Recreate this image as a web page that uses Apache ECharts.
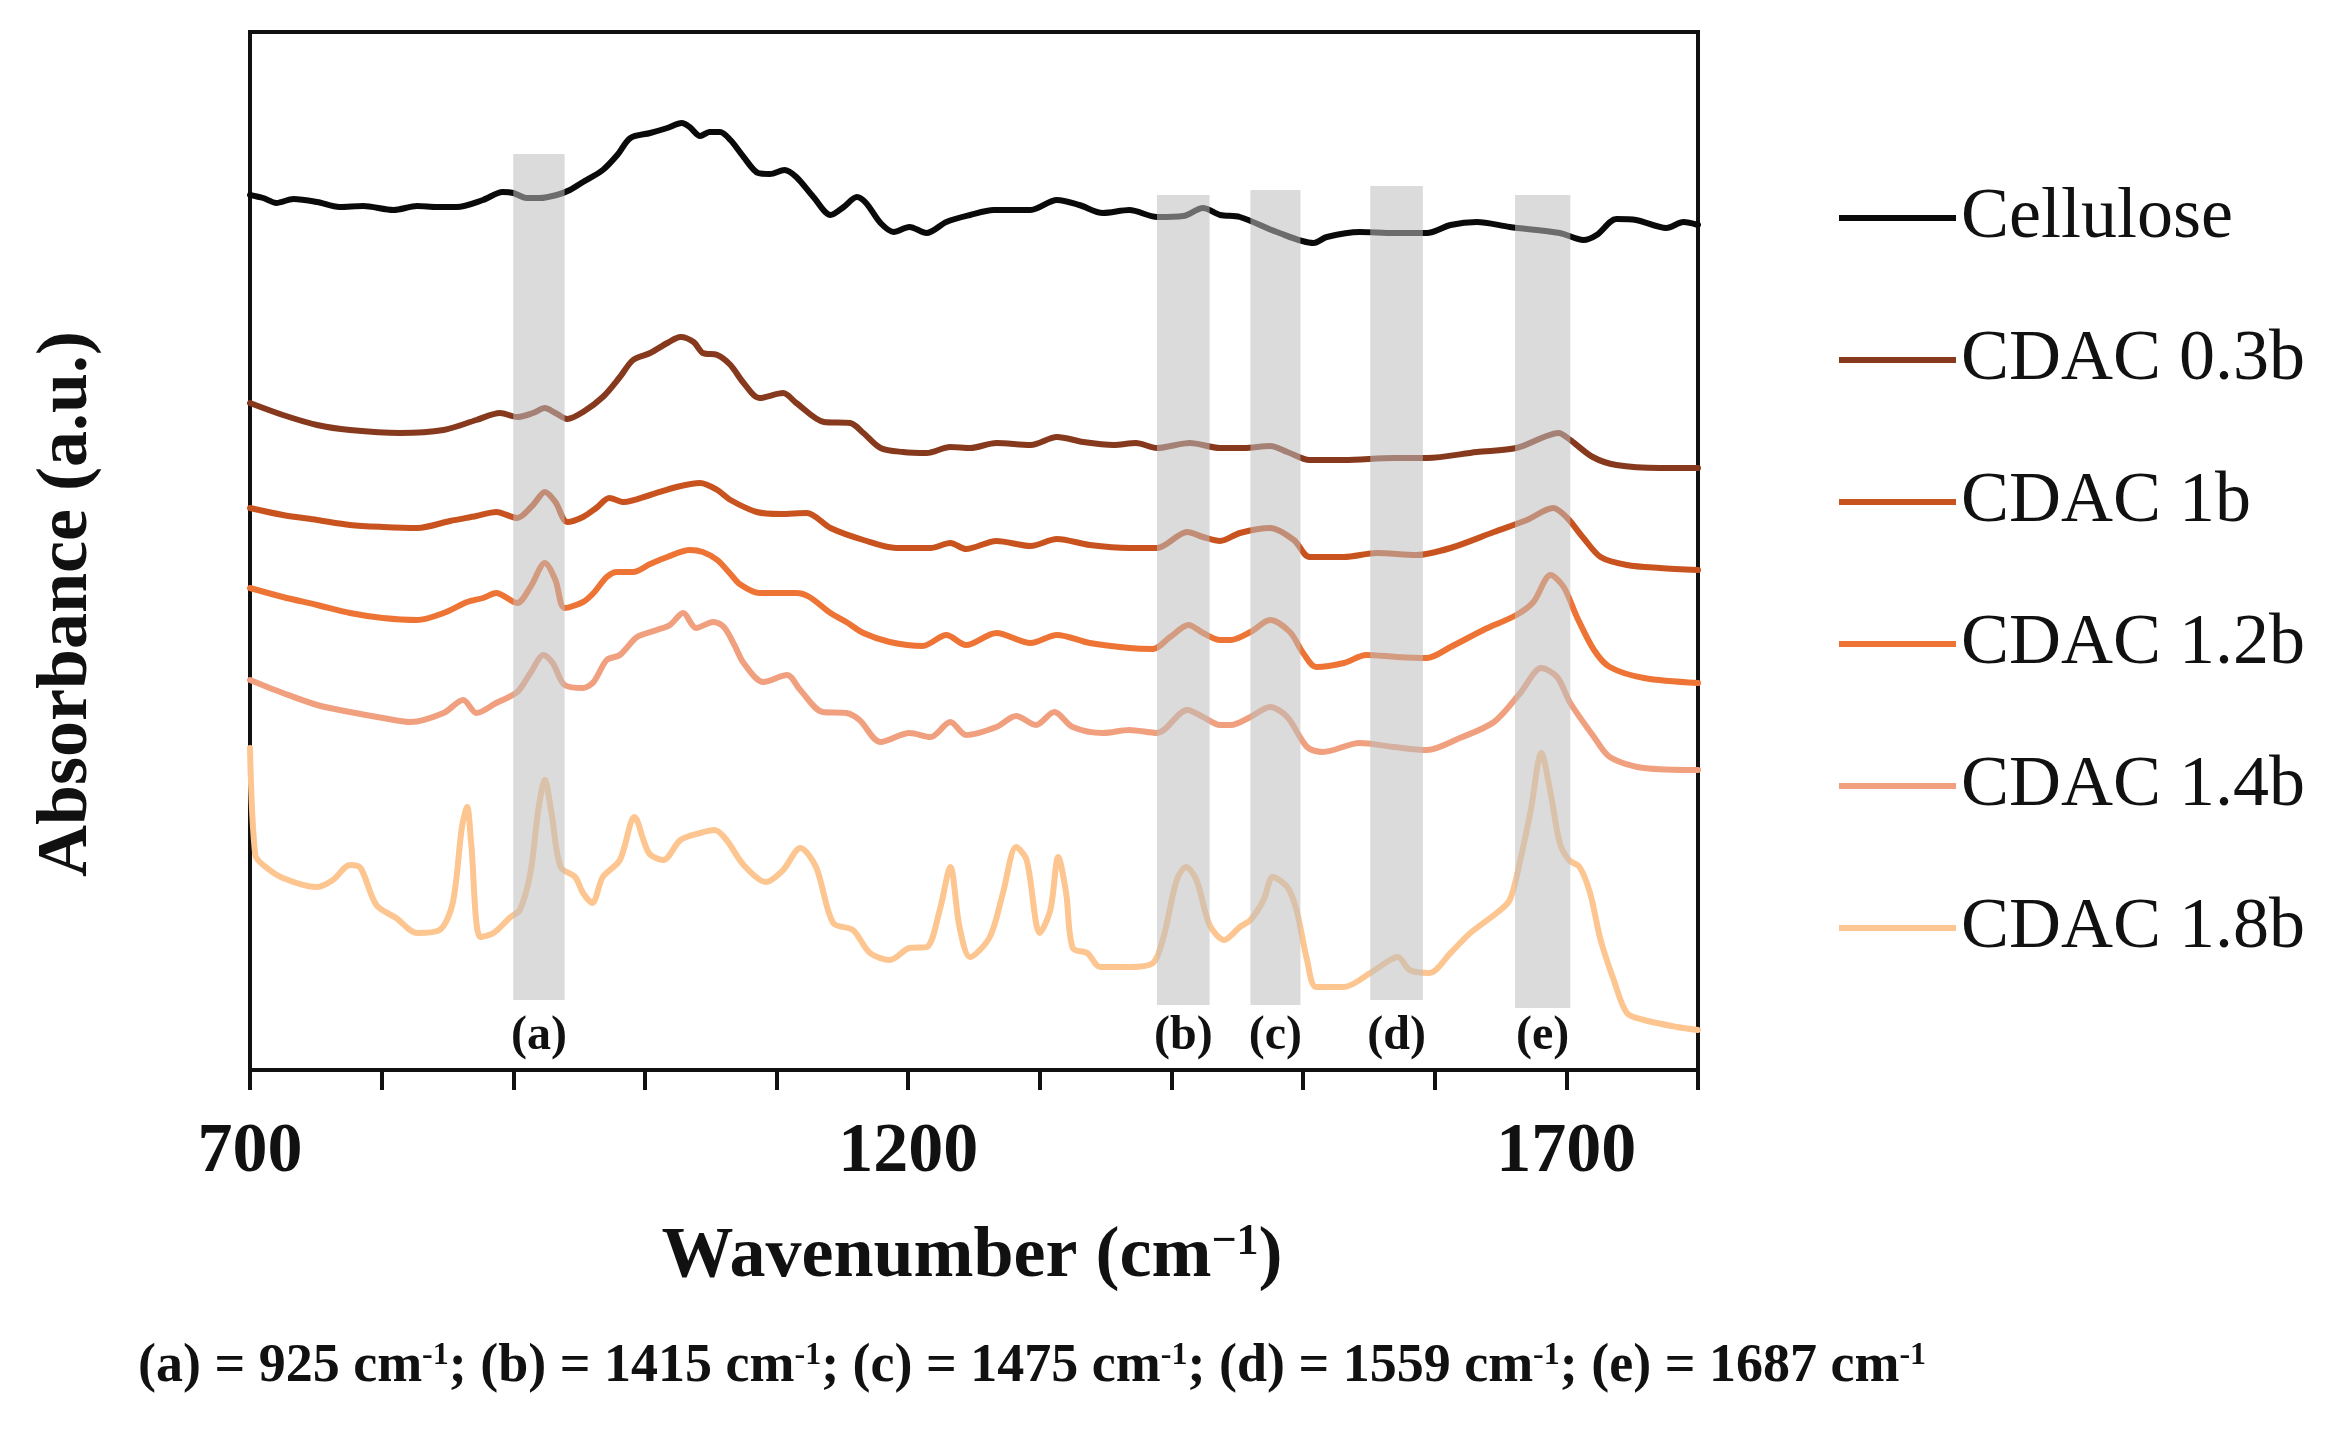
<!DOCTYPE html>
<html>
<head>
<meta charset="utf-8">
<title>FTIR spectra</title>
<script src="https://cdn.jsdelivr.net/npm/echarts@6/dist/echarts.min.js"></script>
<style>
html, body { margin: 0; padding: 0; background: #fff; }
#chart { width: 2341px; height: 1430px; }
</style>
</head>
<body>
<div id="chart"></div>
<script>
// series names and colours
var names = ['Cellulose', 'CDAC 0.3b', 'CDAC 1b', 'CDAC 1.2b', 'CDAC 1.4b', 'CDAC 1.8b'];
var colors = ['#0a0a0a', '#86391c', '#c8531f', '#ee7436', '#f0a07f', '#fdc590'];

// wavenumber (cm-1) / absorbance (a.u., stacked offsets)
var celluloseX = [700,710,720,733,751,768,786,809,827,842,857,877,892,900,910,920,933,943,953,968,979,989,1004,1017,1028,1034,1042,1049,1057,1065,1075,1086,1095,1106,1115,1128,1141,1151,1161,1168,1179,1189,1201,1214,1229,1247,1265,1293,1313,1330,1348,1368,1389,1409,1424,1437,1452,1480,1508,1518,1543,1569,1594,1612,1632,1657,1695,1713,1723,1738,1753,1776,1789,1800];
var celluloseY = [87.5,87.2,86.7,87.1,86.8,86.3,86.4,86.0,86.4,86.3,86.3,87.0,87.8,87.7,87.2,87.2,87.5,88.0,88.8,90.0,91.5,93.2,93.7,94.2,94.7,94.3,93.4,93.8,93.8,93.0,91.3,89.7,89.6,90.0,89.3,87.3,85.5,86.3,87.3,86.7,84.7,83.8,84.3,83.7,84.8,85.5,86.0,86.0,87.0,86.5,85.7,86.0,85.3,85.4,86.2,85.5,85.3,83.8,82.7,83.3,83.8,83.7,83.7,84.5,84.8,84.3,83.7,83.0,83.5,85.1,85.0,84.2,84.8,84.5];

var cdac03X = [700,725,751,776,814,847,872,890,903,915,924,932,941,953,968,981,991,1004,1017,1027,1037,1044,1055,1065,1075,1087,1105,1115,1136,1156,1166,1179,1196,1214,1232,1247,1267,1293,1313,1333,1356,1373,1389,1414,1437,1455,1475,1488,1505,1531,1569,1594,1632,1662,1683,1694,1703,1720,1738,1771,1800];
var cdac03Y = [66.7,65.5,64.5,64.0,63.7,64.0,65.0,65.7,65.3,65.7,66.2,65.7,65.1,65.8,67.3,69.3,71.0,71.7,72.7,73.3,72.8,71.7,71.5,70.5,68.7,67.2,67.7,66.7,64.8,64.7,63.7,62.2,61.8,61.7,62.3,62.2,62.7,62.5,63.3,62.8,62.5,62.7,62.2,62.7,62.2,62.2,62.4,61.8,61.0,61.0,61.2,61.2,61.8,62.2,63.3,63.7,63.0,61.3,60.5,60.2,60.2];

var cdac1X = [700,725,751,776,801,827,852,872,887,903,915,924,932,941,953,963,973,984,1004,1024,1042,1055,1065,1085,1103,1123,1141,1166,1191,1217,1232,1244,1267,1293,1313,1338,1368,1389,1412,1424,1437,1452,1475,1493,1505,1531,1556,1586,1612,1645,1670,1690,1700,1713,1726,1746,1771,1800];
var cdac1Y = [56.2,55.5,55.0,54.5,54.3,54.2,54.9,55.4,55.8,55.2,56.5,57.8,56.8,54.8,55.3,56.2,57.2,56.8,57.5,58.3,58.7,58.0,57.0,55.8,55.6,55.7,54.2,53.0,52.2,52.2,52.7,52.1,52.9,52.4,53.1,52.5,52.2,52.2,53.8,53.3,52.9,53.7,54.2,53.0,51.3,51.3,51.7,51.5,52.2,53.8,55.0,56.2,55.3,53.2,51.3,50.5,50.2,50.0];

var cdac12X = [700,725,751,776,801,827,847,865,877,887,903,913,924,932,939,953,961,971,979,991,1004,1017,1034,1044,1055,1065,1072,1087,1115,1125,1141,1153,1166,1186,1211,1229,1244,1267,1293,1313,1338,1368,1386,1399,1413,1424,1437,1445,1460,1475,1490,1500,1510,1531,1548,1571,1594,1612,1637,1662,1675,1688,1698,1708,1721,1733,1759,1800];
var cdac12Y = [48.2,47.3,46.5,45.7,45.2,45.0,45.7,46.8,47.2,47.7,46.7,48.3,50.7,49.0,46.2,46.8,47.7,49.3,49.8,49.8,50.6,51.3,52.0,51.8,51.0,49.6,48.6,47.7,47.7,47.3,45.7,44.8,43.7,42.8,42.4,43.5,42.5,43.7,42.7,43.5,42.7,42.2,42.1,43.3,44.5,43.7,43.0,43.0,43.8,45.0,43.8,41.7,40.3,40.7,41.5,41.3,41.2,42.3,44.0,45.5,46.8,49.5,48.3,45.3,42.0,40.3,39.2,38.7];

var cdac14X = [700,725,751,776,801,822,847,862,872,887,903,913,923,930,939,953,961,971,981,994,1009,1019,1029,1039,1052,1060,1068,1075,1090,1108,1118,1135,1153,1163,1179,1201,1217,1232,1244,1267,1282,1297,1311,1325,1348,1368,1389,1412,1424,1437,1445,1460,1475,1488,1503,1515,1543,1569,1594,1619,1645,1665,1681,1693,1703,1721,1733,1759,1800];
var cdac14Y = [39.0,37.7,36.5,35.8,35.2,34.8,35.7,37.0,35.7,36.7,37.8,39.7,41.5,40.7,38.5,38.2,38.8,41.0,41.5,43.3,44.0,44.5,45.7,44.2,44.8,44.3,42.5,40.7,38.8,39.5,38.0,35.8,35.7,35.0,32.8,33.7,33.3,34.8,33.5,34.3,35.4,34.5,35.8,34.3,33.7,34.0,33.7,36.0,35.3,34.5,34.5,35.3,36.3,35.3,32.3,31.8,32.7,32.3,32.0,33.2,34.8,37.7,40.2,39.3,36.7,33.3,31.3,30.2,30.0];

var cdac18X = [700,704,710,725,751,763,776,784,796,811,827,844,854,861,865,868,875,885,898,905,913,919,924,929,936,947,953,960,968,981,992,1003,1014,1027,1042,1053,1062,1075,1092,1105,1118,1130,1143,1158,1171,1186,1201,1214,1224,1232,1239,1247,1262,1272,1282,1290,1300,1308,1314,1320,1325,1336,1346,1368,1386,1394,1404,1411,1419,1429,1440,1452,1460,1470,1477,1488,1495,1503,1510,1531,1551,1566,1572,1581,1596,1612,1627,1647,1657,1665,1673,1681,1688,1695,1702,1710,1718,1726,1736,1746,1759,1784,1800];
var cdac18Y = [32.2,21.5,20.5,19.2,18.3,19.0,20.5,20.2,16.5,15.2,13.7,14.0,16.7,24.3,26.3,22.7,13.3,13.7,15.3,16.0,19.7,26.0,29.0,25.7,20.3,19.3,17.7,16.7,19.3,21.0,25.3,21.7,21.0,23.0,23.7,24.0,23.0,20.5,18.8,20.0,22.2,20.3,14.7,14.0,11.7,11.0,12.2,12.3,16.0,20.3,14.3,11.3,13.3,17.7,22.3,21.0,13.7,16.0,21.3,17.7,12.2,11.7,10.3,10.3,10.7,13.3,19.0,20.3,19.0,14.5,13.0,14.3,15.0,17.0,19.3,18.3,16.0,11.0,8.3,8.3,9.7,11.0,11.3,10.0,9.7,11.7,13.7,15.7,17.0,21.0,26.0,31.7,27.7,22.7,21.0,20.3,17.7,13.0,9.0,5.7,5.0,4.3,4.0];

// highlighted bands (a)-(e)
var bandLabels = ['(a)', '(b)', '(c)', '(d)', '(e)'];
var bandFrom = [900, 1389, 1460, 1551, 1661];
var bandTo = [939, 1429, 1498, 1591, 1703];
var bandBottom = [7.0, 6.5, 6.5, 7.0, 6.2];
var bandTop = [91.6, 87.5, 88.0, 88.4, 87.5];
var bandLabelY = 3.3;

var xTickLabels = [700, 1200, 1700];

var xs = [celluloseX, cdac03X, cdac1X, cdac12X, cdac14X, cdac18X];
var ys = [celluloseY, cdac03Y, cdac1Y, cdac12Y, cdac14Y, cdac18Y];

var serif = '"Liberation Serif", "Times New Roman", serif';

function pairs(x, y) {
  return x.map(function (v, i) { return [v, y[i]]; });
}

var series = names.map(function (n, i) {
  return {
    name: n,
    type: 'line',
    data: pairs(xs[i], ys[i]),
    showSymbol: false,
    symbol: 'none',
    smooth: 0.3,
    color: colors[i],
    lineStyle: { width: 6, color: colors[i], join: 'round', cap: 'round' },
    z: 2
  };
});

var bandData = bandFrom.map(function (f, i) {
  return [f, bandTo[i], bandBottom[i], bandTop[i]];
});

series.push({
  type: 'custom',
  z: 10,
  silent: true,
  encode: { x: [0, 1], y: [2, 3] },
  data: bandData,
  renderItem: function (params, api) {
    var lt = api.coord([api.value(0), api.value(3)]);
    var rb = api.coord([api.value(1), api.value(2)]);
    var mid = api.coord([(api.value(0) + api.value(1)) / 2, bandLabelY]);
    return {
      type: 'group',
      children: [
        {
          type: 'rect',
          shape: { x: lt[0], y: lt[1], width: rb[0] - lt[0], height: rb[1] - lt[1] },
          style: { fill: 'rgba(190,190,190,0.55)' }
        },
        {
          type: 'text',
          x: mid[0],
          y: mid[1],
          style: {
            text: bandLabels[params.dataIndex],
            fill: '#111',
            font: 'bold 48px ' + serif,
            align: 'center', verticalAlign: 'middle',
            textAlign: 'center', textVerticalAlign: 'middle'
          }
        }
      ]
    };
  }
});

var myChart = echarts.init(document.getElementById('chart'));

var option = {
  backgroundColor: '#fff',
  animation: false,
  grid: {
    left: 250, top: 32, width: 1448, height: 1038,
    show: true, borderColor: '#111', borderWidth: 4
  },
  legend: {
    data: names,
    orient: 'vertical',
    left: 1834,
    top: 177,
    icon: 'rect',
    itemWidth: 117,
    itemHeight: 6,
    itemGap: 70,
    selectedMode: false,
    textStyle: { fontFamily: serif, fontSize: 72, lineHeight: 72, color: '#111' }
  },
  xAxis: {
    type: 'value',
    min: 700,
    max: 1800,
    interval: 100,
    axisLine: { lineStyle: { color: '#111', width: 4 } },
    axisTick: { show: true, inside: false, length: 20, lineStyle: { color: '#111', width: 4 } },
    axisLabel: {
      margin: 48,
      fontFamily: serif,
      fontWeight: 'bold',
      fontSize: 70,
      color: '#111',
      formatter: function (v) { return xTickLabels.indexOf(v) >= 0 ? String(v) : ''; }
    },
    splitLine: { show: false }
  },
  yAxis: {
    type: 'value',
    min: 0,
    max: 103.8,
    axisLine: { show: true, lineStyle: { color: '#111', width: 4 } },
    axisTick: { show: false },
    axisLabel: { show: false },
    splitLine: { show: false }
  },
  graphic: [
    {
      type: 'text',
      x: 67, y: 604,
      rotation: Math.PI / 2,
      style: {
        text: 'Absorbance (a.u.)',
        font: 'bold 72px ' + serif,
        fill: '#111',
        align: 'center', verticalAlign: 'middle',
        textAlign: 'center', textVerticalAlign: 'middle'
      }
    },
    {
      type: 'text',
      x: 972, y: 1257,
      style: {
        text: 'Wavenumber (cm{sup|\u22121})',
        font: 'bold 72px ' + serif,
        fill: '#111',
        align: 'center', verticalAlign: 'middle',
        textAlign: 'center', textVerticalAlign: 'middle',
        rich: {
          sup: { fontSize: 44, fontWeight: 'bold', fontFamily: serif, verticalAlign: 'top', lineHeight: 72 }
        }
      }
    },
    {
      type: 'text',
      x: 1032, y: 1367,
      style: {
        text: '(a) = 925 cm{sup|-1}; (b) = 1415 cm{sup|-1}; (c) = 1475 cm{sup|-1}; (d) = 1559 cm{sup|-1}; (e) = 1687 cm{sup|-1}',
        font: 'bold 54px ' + serif,
        fill: '#111',
        align: 'center', verticalAlign: 'middle',
        textAlign: 'center', textVerticalAlign: 'middle',
        rich: {
          sup: { fontSize: 32, fontWeight: 'bold', fontFamily: serif, verticalAlign: 'top', lineHeight: 54 }
        }
      }
    }
  ],
  series: series
};

myChart.setOption(option);
window.addEventListener('resize', function () {
  myChart.resize();
});
</script>
</body>
</html>
